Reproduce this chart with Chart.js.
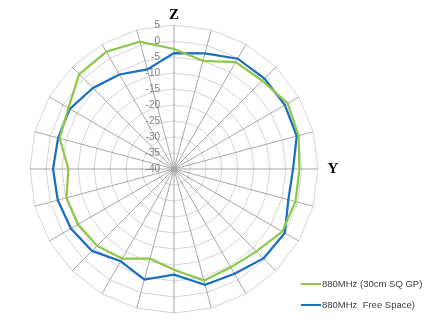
<!DOCTYPE html>
<html>
<head>
<meta charset="utf-8">
<script src="https://cdn.jsdelivr.net/npm/chart.js@4/dist/chart.umd.min.js"></script>
<style>
  html, body { margin: 0; padding: 0; background: #fff; }
  #wrap { width: 429px; height: 320px; }
</style>
</head>
<body>
<div id="wrap"><canvas id="radar" width="429" height="320"></canvas></div>
<script>
// --- data: 24 directions, 15 deg apart, clockwise from Z ---
const categories = ['Z', '', '', '', '', '', 'Y', '', '', '', '', '',
                    '', '', '', '', '', '', '', '', '', '', '', ''];
const seriesNames = ['880MHz (30cm SQ GP)', '880MHz  Free Space)'];
const groundPlane = [-2.5, -5, -1.4, -1, 1, 0.3, -0.8, -0.7, -0.9, -3.6, -4.5, -3.9,
                     -8.5, -11, -7.7, -6, -5.4, -5.2, -7, -3, -1.9, 1.9, 2.3, 1.2];
const freeSpace = [-3.8, -2.6, -0.2, 0, 0, -0.3, -2.8, -3, 0, -0.5, -2.2, -2.5,
                   -7, -4.2, -6.7, -3.8, -2.8, -2.4, -2.2, -2.5, -2.4, -4.2, -5.9, -7.8];
const tickLabels = [5, 0, -5, -10, -15, -20, -25, -30, -35, -40];
const seriesColors = ['#8fc74a', '#1b6fbf'];

const ctx = document.getElementById('radar').getContext('2d');

// tick labels sit left of the vertical spoke, like Excel does it
const tickLabelPlugin = {
    id: 'tickLabels',
    beforeDatasetsDraw(chart) {
        const r = chart.scales.r;
        const c = chart.ctx;
        c.save();
        c.font = '10px "Liberation Sans", Arial, sans-serif';
        c.fillStyle = '#808080';
        c.textAlign = 'right';
        c.textBaseline = 'middle';
        tickLabels.forEach(v => {
            const d = r.getDistanceFromCenterForValue(v);
            c.fillText(String(v), r.xCenter - 14, r.yCenter - d);
        });
        c.restore();
    }
};

// axis names (Z, Y) just outside the outer ring
const axisNamePlugin = {
    id: 'axisNames',
    afterDraw(chart) {
        const r = chart.scales.r;
        const c = chart.ctx;
        c.save();
        c.font = 'bold 15px "Liberation Serif", "Times New Roman", serif';
        c.fillStyle = '#000';
        c.textAlign = 'center';
        c.textBaseline = 'middle';
        categories.forEach((name, i) => {
            if (!name) return;
            const a = i / categories.length * 2 * Math.PI;
            const p = r.getPointPosition(i, r.drawingArea + 10 + 5 * Math.abs(Math.sin(a)));
            c.fillText(name, p.x, p.y);
        });
        c.restore();
    }
};

// small legend at the bottom right
const legendPlugin = {
    id: 'cornerLegend',
    afterDraw(chart) {
        const c = chart.ctx;
        c.save();
        c.font = '9.5px "Liberation Sans", Arial, sans-serif';
        c.fillStyle = '#404040';
        c.textAlign = 'left';
        c.textBaseline = 'middle';
        chart.data.datasets.forEach((ds, i) => {
            const y = 284 + i * 21;
            c.strokeStyle = ds.borderColor;
            c.lineWidth = 2;
            c.beginPath();
            c.moveTo(301, y);
            c.lineTo(321, y);
            c.stroke();
            c.fillText(ds.label, 322, y);
        });
        c.restore();
    }
};

const chart = new Chart(ctx, {
    type: 'radar',
    data: {
        labels: categories,
        datasets: [
            { label: seriesNames[0], data: groundPlane, borderColor: seriesColors[0] },
            { label: seriesNames[1], data: freeSpace, borderColor: seriesColors[1] }
        ].map(ds => Object.assign(ds, {
            borderWidth: 2.25,
            pointRadius: 0,
            fill: false,
            tension: 0,
            backgroundColor: 'transparent'
        }))
    },
    options: {
        responsive: false,
        animation: false,
        layout: { padding: { left: 30, right: 111, top: 25, bottom: 7 } },
        scales: {
            r: {
                min: -40,
                max: 5,
                ticks: { display: false, stepSize: 5 },
                grid: { color: '#d4d4d4', lineWidth: 1 },
                angleLines: { color: '#a8a8a8', lineWidth: 1 },
                pointLabels: { display: false }
            }
        },
        plugins: {
            legend: { display: false },
            tooltip: { enabled: false }
        }
    },
    plugins: [tickLabelPlugin, axisNamePlugin, legendPlugin]
});
</script>
</body>
</html>
